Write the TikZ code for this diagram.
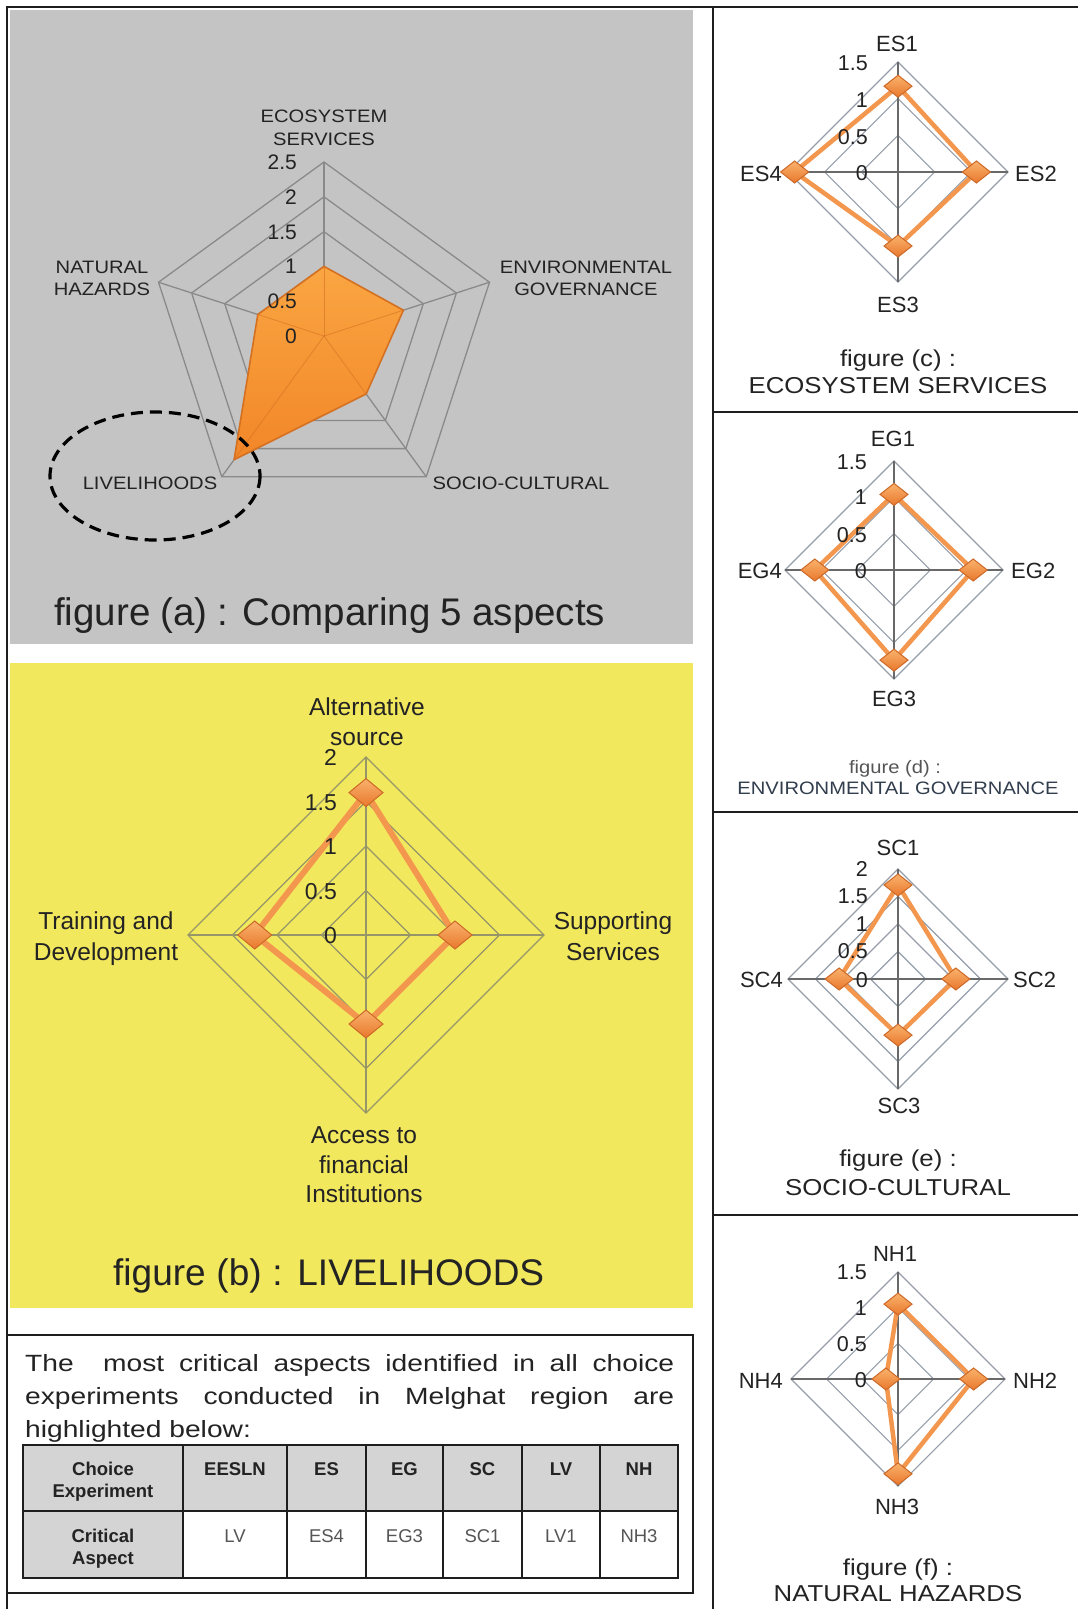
\documentclass[tikz,border=0pt]{standalone}
\usepackage{fontspec}
\setmainfont{Liberation Sans}
\newfontfamily\widefont[FakeStretch=1.12]{Liberation Sans}
\newfontfamily\parafont[FakeStretch=1.2]{Liberation Sans}
\newcommand\setfs[1]{\fontsize{#1pt}{#1pt}\selectfont}
\definecolor{panelgrey}{RGB}{196,196,196}
\definecolor{panelyellow}{RGB}{242,232,94}
\definecolor{gridA}{RGB}{138,138,138}
\definecolor{gridB}{RGB}{150,150,104}
\definecolor{ringR}{RGB}{150,158,170}
\definecolor{spokeR}{RGB}{105,105,105}
\definecolor{orline}{RGB}{243,150,78}
\definecolor{mktop}{RGB}{250,178,108}
\definecolor{mkbot}{RGB}{232,120,45}
\definecolor{mkedge}{RGB}{205,105,40}
\definecolor{areatop}{RGB}{250,166,66}
\definecolor{areabot}{RGB}{242,134,40}
\definecolor{areaedge}{RGB}{212,112,34}
\definecolor{txt}{RGB}{35,35,35}
\definecolor{framec}{RGB}{30,30,30}
\definecolor{cellgrey}{RGB}{212,212,212}
\definecolor{valgrey}{RGB}{85,85,85}
\newcommand\smallradar[8]{%
 \begin{scope}[shift={(#1,#2)},yscale=-1]
  \foreach \k in {1,...,#4}{\pgfmathsetmacro\rr{\k*#3/#4}
    \draw[ringline] (90:\rr)--(0:\rr)--(-90:\rr)--(180:\rr)--cycle;}
  \draw[spokeline] (-#3,0)--(#3,0) (0,-#3)--(0,#3);
  \draw[radarsmall] (90:#5)--(0:#6)--(-90:#7)--(180:#8)--cycle;
  \foreach \a/\r in {90/#5,0/#6,-90/#7,180/#8} \pic at (\a:\r) {smallmk};
 \end{scope}}
\begin{document}
\begin{tikzpicture}[x=1pt,y=-1pt,
  tx/.style={inner sep=0pt,anchor=base,text=txt},
  frameline/.style={draw=framec,line width=2.4},
  tabline/.style={draw=framec,line width=2.4},
  gridAline/.style={draw=gridA,line width=1.3},
  gridBline/.style={draw=gridB,line width=1.3},
  ringline/.style={draw=ringR,line width=1.1},
  spokeline/.style={draw=spokeR,line width=1.1},
  radarbig/.style={draw=orline,line width=6,line join=round},
  radarsmall/.style={draw=orline,line width=4.5,line join=round},
  areafill/.style={draw=areaedge,line width=1.6,line join=round,top color=areatop,bottom color=areabot},
  ovaldash/.style={draw=black,line width=3.2,dash pattern=on 12pt off 7pt},
  bigmk/.pic={\path[draw=mkedge,line width=1,top color=mktop,bottom color=mkbot] (-17,0)--(0,14)--(17,0)--(0,-14)--cycle;},
  smallmk/.pic={\path[draw=mkedge,line width=1,top color=mktop,bottom color=mkbot] (-14,0)--(0,11)--(14,0)--(0,-11)--cycle;}
]
\useasboundingbox (0,0) rectangle (1078,1609);
\fill[white] (0,0) rectangle (1078,1609);
% ---------- panels
\fill[panelgrey] (10,10) rectangle (693,644);
\fill[panelyellow] (10,663) rectangle (693,1308);
% ---------- frame
\draw[frameline] (7,1609) -- (7,7) -- (1078,7);
\draw[frameline] (713,7) -- (713,1609);
\foreach \yy in {412,812,1215} \draw[frameline] (713,\yy) -- (1078,\yy);
\draw[frameline] (7,1335) -- (693,1335) -- (693,1593) -- (7,1593);

% ---------- chart (a)
\begin{scope}[shift={(324,336)},yscale=-1]
 \foreach \k in {1,...,5}{\pgfmathsetmacro\rr{\k*34.8}
   \draw[gridAline] (90:\rr) -- (18:\rr) -- (-54:\rr) -- (-126:\rr) -- (162:\rr) -- cycle;}
 \foreach \a in {90,18,-54,-126,162} \draw[gridAline] (0,0) -- (\a:174);
 \coordinate (aES) at (90:69.6);
 \coordinate (aEG) at (18:83.5);
 \coordinate (aSC) at (-54:71.7);
 \coordinate (aLV) at (-126:153);
 \coordinate (aNH) at (162:69.6);
 \coordinate (aO) at (0,0);
 \draw[areafill] (aES)--(aEG)--(aSC)--(aLV)--(aNH)--cycle;
 \foreach \p in {aES,aEG,aSC,aLV,aNH} \draw[draw=areaedge,line width=0.8,opacity=0.6] (aO) -- (\p);
\end{scope}
\draw[ovaldash] (155,476) ellipse [x radius=105, y radius=64];
\begin{scope}[font=\widefont\setfs{18}]
\node[tx] (aL1) at (324,122.5) {ECOSYSTEM};
\node[tx] (aL2) at (324,145.5) {SERVICES};
\node[tx] (aL3) at (102,273.5) {NATURAL};
\node[tx] (aL4) at (102,295.5) {HAZARDS};
\node[tx] (aL5) at (586,273.5) {ENVIRONMENTAL};
\node[tx] (aL6) at (586,295.5) {GOVERNANCE};
\node[tx] (aL7) at (150,489.5) {LIVELIHOODS};
\node[tx] (aL8) at (521,489.5) {SOCIO-CULTURAL};
\end{scope}
\begin{scope}[font=\setfs{21}]
\node[tx,anchor=base east] (aN5) at (297,169.5) {2.5};
\node[tx,anchor=base east] (aN4) at (297,204.5) {2};
\node[tx,anchor=base east] (aN3) at (297,239.5) {1.5};
\node[tx,anchor=base east] (aN2) at (297,273.5) {1};
\node[tx,anchor=base east] (aN1) at (297,308.5) {0.5};
\node[tx,anchor=base east] (aN0) at (297,343.5) {0};
\end{scope}
\node[tx,anchor=base west,font=\setfs{38.5}] (capA) at (54,625) {\makebox[551pt][s]{figure\ (a) : Comparing 5 aspects}};

% ---------- chart (b)
\begin{scope}[shift={(366,935)},yscale=-1]
 \foreach \k in {1,...,4}{\pgfmathsetmacro\rr{\k*44.5}
   \draw[gridBline] (90:\rr)--(0:\rr)--(-90:\rr)--(180:\rr)--cycle;}
 \draw[gridBline] (-178,0)--(178,0) (0,-178)--(0,178);
 \coordinate (bAS) at (90:142.4);
 \coordinate (bSS) at (0:89);
 \coordinate (bAF) at (-90:89);
 \coordinate (bTD) at (180:111.3);
 \draw[radarbig] (bAS)--(bSS)--(bAF)--(bTD)--cycle;
 \foreach \a/\r in {90/142.4,0/89,-90/89,180/111.3} \pic at (\a:\r) {bigmk};
\end{scope}
\begin{scope}[font=\setfs{24.5}]
\node[tx] (bL1) at (367,715) {Alternative};
\node[tx] (bL2) at (367,745) {source};
\node[tx] (bL3) at (613,929) {Supporting};
\node[tx] (bL4) at (613,960) {Services};
\node[tx] (bL5) at (106,929) {Training and};
\node[tx] (bL6) at (106,960) {Development};
\node[tx] (bL7) at (364,1143) {Access to};
\node[tx] (bL8) at (364,1173) {financial};
\node[tx] (bL9) at (364,1202) {Institutions};
\end{scope}
\begin{scope}[font=\setfs{23}]
\node[tx,anchor=base east] (bN4) at (337,765) {2};
\node[tx,anchor=base east] (bN3) at (337,810) {1.5};
\node[tx,anchor=base east] (bN2) at (337,854) {1};
\node[tx,anchor=base east] (bN1) at (337,899) {0.5};
\node[tx,anchor=base east] (bN0) at (337,943) {0};
\end{scope}
\node[tx,anchor=base west,font=\setfs{37}] (capB) at (113,1285) {\makebox[431pt][s]{figure\ (b) : LIVELIHOODS}};

% ---------- table
\node[tx,anchor=base west,font=\parafont\setfs{23.5}] (p1) at (25,1371) {\makebox[649pt][s]{The\ \ most critical aspects identified in all choice}};
\node[tx,anchor=base west,font=\parafont\setfs{23.5}] (p2) at (25,1404) {\makebox[649pt][s]{experiments conducted in Melghat region are}};
\node[tx,anchor=base west,font=\parafont\setfs{23.5}] (p3) at (25,1437) {highlighted below:};
\fill[cellgrey] (23,1445) rectangle (678,1511);
\fill[cellgrey] (23,1511) rectangle (183,1578);
\draw[tabline] (23,1445) rectangle (678,1578);
\draw[tabline] (23,1511) -- (678,1511);
\foreach \xx in {183,287,366,443,522,600} \draw[tabline] (\xx,1445) -- (\xx,1578);
\begin{scope}[font=\bfseries\setfs{18.5}]
\node[tx] (h0a) at (103,1475) {Choice};
\node[tx] (h0b) at (103,1497) {Experiment};
\node[tx] (h1) at (235,1475) {EESLN};
\node[tx] (h2) at (326.5,1475) {ES};
\node[tx] (h3) at (404.5,1475) {EG};
\node[tx] (h4) at (482.5,1475) {SC};
\node[tx] (h5) at (561,1475) {LV};
\node[tx] (h6) at (639,1475) {NH};
\node[tx] (r0a) at (103,1542) {Critical};
\node[tx] (r0b) at (103,1564) {Aspect};
\end{scope}
\begin{scope}[font=\setfs{18.5}]
\node[tx,text=valgrey] (v1) at (235,1542) {LV};
\node[tx,text=valgrey] (v2) at (326.5,1542) {ES4};
\node[tx,text=valgrey] (v3) at (404.5,1542) {EG3};
\node[tx,text=valgrey] (v4) at (482.5,1542) {SC1};
\node[tx,text=valgrey] (v5) at (561,1542) {LV1};
\node[tx,text=valgrey] (v6) at (639,1542) {NH3};
\end{scope}

% ---------- right charts
\smallradar{898}{172}{110}{3}{85.8}{78.4}{74.0}{103.4}
\smallradar{894}{570}{109}{3}{75.6}{79.2}{90.1}{79.2}
\smallradar{898}{979}{110}{4}{94.0}{57.8}{56.1}{58.9}
\smallradar{898}{1379}{107}{3}{74.9}{75.6}{94.8}{12.1}

\begin{scope}[font=\setfs{22}]
\node[tx] (c1) at (897,51) {ES1};
\node[tx,anchor=base west] (c2) at (1015,181) {ES2};
\node[tx] (c3) at (898,312) {ES3};
\node[tx,anchor=base east] (c4) at (782,181) {ES4};
\node[tx] (d1) at (893,446) {EG1};
\node[tx,anchor=base west] (d2) at (1011,578) {EG2};
\node[tx] (d3) at (894,706) {EG3};
\node[tx,anchor=base east] (d4) at (782,578) {EG4};
\node[tx] (e1) at (898,855) {SC1};
\node[tx,anchor=base west] (e2) at (1013,987) {SC2};
\node[tx] (e3) at (899,1113) {SC3};
\node[tx,anchor=base east] (e4) at (783,987) {SC4};
\node[tx] (f1) at (895,1261) {NH1};
\node[tx,anchor=base west] (f2) at (1013,1388) {NH2};
\node[tx] (f3) at (897,1514) {NH3};
\node[tx,anchor=base east] (f4) at (783,1388) {NH4};
\end{scope}
\begin{scope}[font=\setfs{21.5}]
\node[tx,anchor=base east] (cN3) at (868,70.5) {1.5};
\node[tx,anchor=base east] (cN2) at (868,107.5) {1};
\node[tx,anchor=base east] (cN1) at (868,144.5) {0.5};
\node[tx,anchor=base east] (cN0) at (868,180.5) {0};
\node[tx,anchor=base east] (dN3) at (867,469.5) {1.5};
\node[tx,anchor=base east] (dN2) at (867,504.5) {1};
\node[tx,anchor=base east] (dN1) at (867,542.5) {0.5};
\node[tx,anchor=base east] (dN0) at (867,578) {0};
\node[tx,anchor=base east] (eN4) at (868,876.5) {2};
\node[tx,anchor=base east] (eN3) at (868,903.5) {1.5};
\node[tx,anchor=base east] (eN2) at (868,931.5) {1};
\node[tx,anchor=base east] (eN1) at (868,958.5) {0.5};
\node[tx,anchor=base east] (eN0) at (868,987) {0};
\node[tx,anchor=base east] (fN3) at (867,1279.5) {1.5};
\node[tx,anchor=base east] (fN2) at (867,1315.5) {1};
\node[tx,anchor=base east] (fN1) at (867,1351.5) {0.5};
\node[tx,anchor=base east] (fN0) at (867,1387.5) {0};
\end{scope}
\begin{scope}[font=\widefont\setfs{23}]
\node[tx] (capC1) at (898,366) {figure (c) :};
\node[tx] (capC2) at (898,393) {ECOSYSTEM SERVICES};
\node[tx] (capE1) at (898,1166) {figure (e) :};
\node[tx] (capE2) at (898,1195) {SOCIO-CULTURAL};
\node[tx] (capF1) at (898,1575) {figure (f) :};
\node[tx] (capF2) at (898,1601) {NATURAL HAZARDS};
\end{scope}
\begin{scope}[font=\widefont\setfs{18}]
\node[tx,text=valgrey] (capD1) at (895,773) {figure (d) :};
\node[tx,text={rgb,255:red,50;green,62;blue,78}] (capD2) at (898,794) {ENVIRONMENTAL GOVERNANCE};
\end{scope}
\end{tikzpicture}
\end{document}
